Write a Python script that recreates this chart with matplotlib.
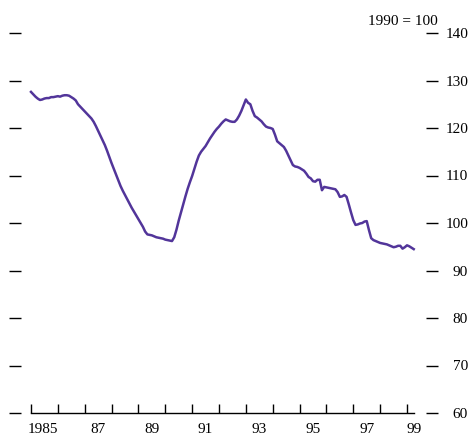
"""Real effective exchange rate index, monthly, 1985-99 (1990 = 100)."""
import numpy as np
import matplotlib
matplotlib.use("Agg")
import matplotlib.pyplot as plt  # noqa: E402

plt.rcParams["font.family"] = ["Liberation Serif", "DejaVu Serif"]

START_YEAR = 1985
# monthly index values, Jan 1985 - Apr 1999
INDEX = [
    127.6, 127.1, 126.6, 126.2, 125.9, 126.0, 126.2, 126.3, 126.3, 126.5, 126.5, 126.6,  # 1985
    126.7, 126.6, 126.8, 126.9, 126.9, 126.8, 126.5, 126.2, 125.8, 125.0, 124.5, 124.0,  # 1986
    123.5, 123.0, 122.5, 122.0, 121.3, 120.4, 119.4, 118.4, 117.4, 116.4, 115.2, 113.9,  # 1987
    112.6, 111.4, 110.2, 109.0, 107.8, 106.8, 105.9, 105.0, 104.1, 103.2, 102.4, 101.6,  # 1988
    100.8, 100.0, 99.2, 98.2, 97.6, 97.5, 97.4, 97.2, 97.0, 96.9, 96.8, 96.7,  # 1989
    96.5, 96.4, 96.3, 96.2, 97.0, 98.6, 100.5, 102.2, 103.9, 105.6, 107.2, 108.6,  # 1990
    109.9, 111.4, 112.9, 114.2, 115.0, 115.6, 116.2, 117.0, 117.8, 118.5, 119.2, 119.8,  # 1991
    120.3, 120.9, 121.4, 121.8, 121.6, 121.4, 121.3, 121.3, 121.8, 122.6, 123.6, 124.8,  # 1992
    126.0, 125.3, 125.0, 123.6, 122.5, 122.2, 121.8, 121.4, 120.8, 120.3, 120.1, 120.0,  # 1993
    119.8, 118.6, 117.2, 116.8, 116.4, 116.0, 115.2, 114.2, 113.2, 112.2, 111.9, 111.8,  # 1994
    111.6, 111.3, 111.0, 110.4, 109.7, 109.4, 108.8, 108.7, 109.1, 109.1, 106.9, 107.6,  # 1995
    107.5, 107.4, 107.3, 107.2, 107.1, 106.5, 105.5, 105.6, 105.9, 105.5, 103.9, 102.2,  # 1996
    100.6, 99.6, 99.7, 99.9, 100.0, 100.3, 100.4, 98.5, 96.8, 96.4, 96.2, 96.0,  # 1997
    95.8, 95.7, 95.6, 95.5, 95.3, 95.1, 94.9, 95.0, 95.2, 95.2, 94.6, 94.9,  # 1998
    95.3, 95.1, 94.8, 94.5,  # 1999
]
Y_TICKS = [60, 70, 80, 90, 100, 110, 120, 130, 140]
YEAR_TICKS = list(range(1985, 2000))
YEAR_LABELS = ["1985", "87", "89", "91", "93", "95", "97", "99"]
YEAR_LABEL_POS = [1985.45, 1987.5, 1989.5, 1991.5, 1993.5, 1995.5, 1997.5, 1999.25]

LINE = "#52359a"


def main() -> None:
    t = START_YEAR + np.arange(len(INDEX)) / 12.0

    fig = plt.figure(figsize=(4.69, 4.37), dpi=100)
    ax = fig.add_axes([21 / 469, 24 / 437, 405 / 469, 380 / 437])
    ax.plot(t, INDEX, color=LINE, lw=1.8, solid_joinstyle="round")

    ax.set_xlim(1984.628, 1999.707)
    ax.set_ylim(60, 140)
    for s in ("left", "right", "top"):
        ax.spines[s].set_visible(False)
    ax.spines["bottom"].set_bounds(1985, 1999.26)
    ax.spines["bottom"].set_linewidth(1.0)

    # year boundaries as inward ticks, labels centred on the years
    ax.set_xticks(YEAR_TICKS, labels=[])
    ax.set_xticks(YEAR_LABEL_POS, labels=YEAR_LABELS, minor=True)
    ax.tick_params(axis="x", which="major", direction="in", length=6.5, width=1.0)
    ax.tick_params(axis="x", which="minor", length=0, pad=7, labelsize=11)

    ax.set_yticks(Y_TICKS)
    ax.tick_params(axis="y", left=True, right=True, labelleft=False, labelright=True,
                   direction="out", length=8.3, width=1.0, pad=22, labelsize=11)
    for lbl in ax.get_yticklabels():
        lbl.set_horizontalalignment("right")

    fig.text(438 / 469, 1 - 25 / 437, "1990 = 100", ha="right", va="baseline", fontsize=11)

    fig.savefig("out.png", dpi=100)
    plt.close(fig)


if __name__ == "__main__":
    main()
